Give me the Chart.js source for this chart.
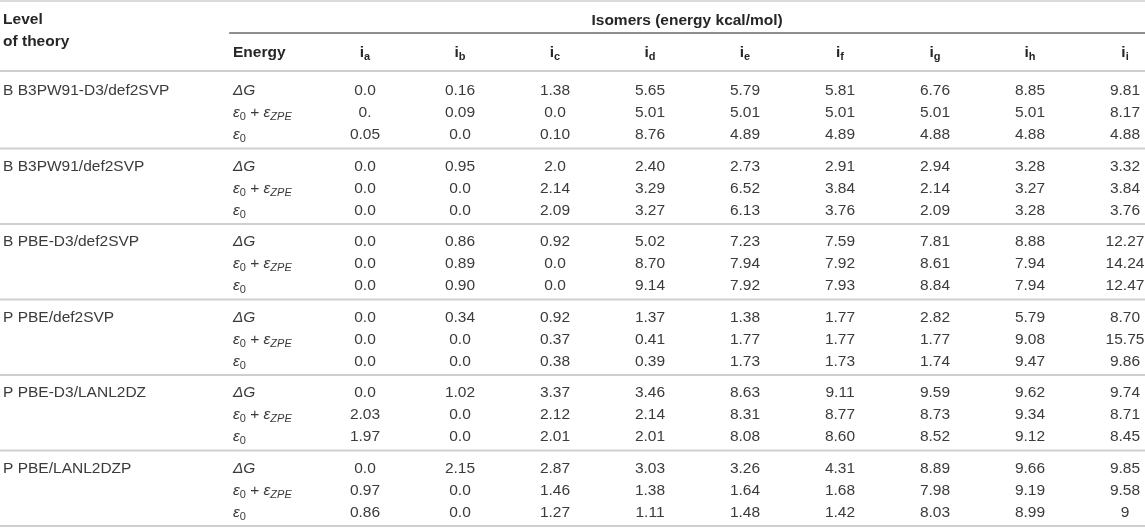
<!DOCTYPE html>
<html>
<head>
<meta charset="utf-8">
<title>Isomer energies</title>
<script src="https://cdn.jsdelivr.net/npm/chart.js@4.4.1/dist/chart.umd.min.js"></script>
<style>
    html, body { margin: 0; padding: 0; background: #fff; }
    #wrap { width: 1145px; height: 528px; position: relative; }
</style>
</head>
<body>
<div id="wrap"><canvas id="chart-isomers"></canvas></div>
<script>
// table data, one row per level of theory, one column per isomer (a..i)
const levels = [
    "B B3PW91-D3/def2SVP",
    "B B3PW91/def2SVP",
    "B PBE-D3/def2SVP",
    "P PBE/def2SVP",
    "P PBE-D3/LANL2DZ",
    "P PBE/LANL2DZP"
];
const isomers = ["a", "b", "c", "d", "e", "f", "g", "h", "i"];
const energyTerms = ["dG", "zpe", "e0"];

const deltaG = [
    ["0.0", "0.16", "1.38", "5.65", "5.79", "5.81", "6.76", "8.85", "9.81"],
    ["0.0", "0.95", "2.0", "2.40", "2.73", "2.91", "2.94", "3.28", "3.32"],
    ["0.0", "0.86", "0.92", "5.02", "7.23", "7.59", "7.81", "8.88", "12.27"],
    ["0.0", "0.34", "0.92", "1.37", "1.38", "1.77", "2.82", "5.79", "8.70"],
    ["0.0", "1.02", "3.37", "3.46", "8.63", "9.11", "9.59", "9.62", "9.74"],
    ["0.0", "2.15", "2.87", "3.03", "3.26", "4.31", "8.89", "9.66", "9.85"]
];
const eps0PlusZpe = [
    ["0.", "0.09", "0.0", "5.01", "5.01", "5.01", "5.01", "5.01", "8.17"],
    ["0.0", "0.0", "2.14", "3.29", "6.52", "3.84", "2.14", "3.27", "3.84"],
    ["0.0", "0.89", "0.0", "8.70", "7.94", "7.92", "8.61", "7.94", "14.24"],
    ["0.0", "0.0", "0.37", "0.41", "1.77", "1.77", "1.77", "9.08", "15.75"],
    ["2.03", "0.0", "2.12", "2.14", "8.31", "8.77", "8.73", "9.34", "8.71"],
    ["0.97", "0.0", "1.46", "1.38", "1.64", "1.68", "7.98", "9.19", "9.58"]
];
const eps0 = [
    ["0.05", "0.0", "0.10", "8.76", "4.89", "4.89", "4.88", "4.88", "4.88"],
    ["0.0", "0.0", "2.09", "3.27", "6.13", "3.76", "2.09", "3.28", "3.76"],
    ["0.0", "0.90", "0.0", "9.14", "7.92", "7.93", "8.84", "7.94", "12.47"],
    ["0.0", "0.0", "0.38", "0.39", "1.73", "1.73", "1.74", "9.47", "9.86"],
    ["1.97", "0.0", "2.01", "2.01", "8.08", "8.60", "8.52", "9.12", "8.45"],
    ["0.86", "0.0", "1.27", "1.11", "1.48", "1.42", "8.03", "8.99", "9"]
];
const headerLevel = ["Level", "of theory"];
const headerEnergy = "Energy";
const headerTitle = "Isomers (energy kcal/mol)";

// layout in scale units: x = isomer column, y = table row
const GROUP = 3.432;
const X_LEVEL = -3.81, X_ENERGY = -1.39, X_RULE = -1.43;
const Y_TOP = -4.09, Y_TITLE = -3.18, Y_RULE_TITLE = -2.64, Y_HEAD = -1.73, Y_RULE_HEAD = -0.91;

const FAMILY = '"Liberation Sans", Arial, Helvetica, sans-serif';
const SIZE = 15.5;
const SUB = 11;
const TEXT = "#3b3b3b";
const BOLD = "#262626";

function rowY(g, r) {
    return g * GROUP + r;
}

function cellPoints(table, r) {
    const pts = [];
    table.forEach((row, g) => {
        row.forEach((v, k) => pts.push({ x: k, y: rowY(g, r), text: v }));
    });
    return pts;
}

const datasets = [
    { label: "dG", data: cellPoints(deltaG, 0), kind: "num" },
    { label: "zpe", data: cellPoints(eps0PlusZpe, 1), kind: "num" },
    { label: "e0", data: cellPoints(eps0, 2), kind: "num" },
    { label: "levels", data: levels.map((l, g) => ({ x: X_LEVEL, y: rowY(g, 0), text: l })), kind: "level" },
    {
        label: "terms",
        data: levels.flatMap((l, g) => energyTerms.map((t, r) => ({ x: X_ENERGY, y: rowY(g, r), text: t }))),
        kind: "term"
    },
    { label: "isomers", data: isomers.map((s, k) => ({ x: k, y: Y_HEAD, text: s })), kind: "iso" }
];

// rich text: list of [text, style, dy]
function font(style, size) {
    return style + " " + size + "px " + FAMILY;
}

function drawParts(ctx, parts, x, y, align, color) {
    let w = 0;
    parts.forEach(p => {
        ctx.font = p[1];
        w += ctx.measureText(p[0]).width;
    });
    let cx = align === "center" ? x - w / 2 : x;
    ctx.fillStyle = color;
    ctx.textAlign = "left";
    ctx.textBaseline = "middle";
    parts.forEach(p => {
        ctx.font = p[1];
        ctx.fillText(p[0], cx, y + (p[2] || 0));
        cx += ctx.measureText(p[0]).width;
    });
}

const termParts = {
    dG: [["\u0394G", font("italic", SIZE), 0]],
    zpe: [
        ["\u03b5", font("italic", SIZE), 0],
        ["0", font("normal", SUB), 4],
        [" + ", font("normal", SIZE), 0],
        ["\u03b5", font("italic", SIZE), 0],
        ["ZPE", font("italic", SUB), 4]
    ],
    e0: [
        ["\u03b5", font("italic", SIZE), 0],
        ["0", font("normal", SUB), 4]
    ]
};

const tablePlugin = {
    id: "tableCells",
    beforeDatasetsDraw(chart) {
        const ctx = chart.ctx;
        const xs = chart.scales.x, ys = chart.scales.y;
        const left = chart.chartArea.left, right = chart.chartArea.right;
        ctx.save();
        const hline = (y, x0, color, lw) => {
            const py = ys.getPixelForValue(y);
            ctx.strokeStyle = color;
            ctx.lineWidth = lw;
            ctx.beginPath();
            ctx.moveTo(x0, py);
            ctx.lineTo(right, py);
            ctx.stroke();
        };
        hline(Y_TOP, left, "#cfcfcf", 1.5);
        hline(Y_RULE_TITLE, xs.getPixelForValue(X_RULE), "#6a6a6a", 1.5);
        hline(Y_RULE_HEAD, left, "#cfcfcf", 2);
        levels.forEach((l, g) => hline(rowY(g + 1, 0) - 0.82, left, "#cfcfcf", 2));

        // header texts
        const hx = xs.getPixelForValue(X_LEVEL);
        drawParts(ctx, [[headerLevel[0], font("bold", SIZE)]], hx, ys.getPixelForValue(Y_TITLE - 0.05), "left", BOLD);
        drawParts(ctx, [[headerLevel[1], font("bold", SIZE)]], hx, ys.getPixelForValue(Y_TITLE + 0.95), "left", BOLD);
        drawParts(ctx, [[headerTitle, font("bold", SIZE)]],
            xs.getPixelForValue((X_RULE + xs.max) / 2), ys.getPixelForValue(Y_TITLE), "center", BOLD);
        drawParts(ctx, [[headerEnergy, font("bold", SIZE)]],
            xs.getPixelForValue(X_ENERGY), ys.getPixelForValue(Y_HEAD), "left", BOLD);
        ctx.restore();
    },
    afterDatasetsDraw(chart) {
        const ctx = chart.ctx;
        ctx.save();
        chart.data.datasets.forEach((ds, i) => {
            const meta = chart.getDatasetMeta(i);
            meta.data.forEach((el, j) => {
                const raw = ds.data[j];
                if (ds.kind === "num") {
                    drawParts(ctx, [[raw.text, font("normal", SIZE)]], el.x, el.y, "center", TEXT);
                } else if (ds.kind === "level") {
                    drawParts(ctx, [[raw.text, font("normal", SIZE)]], el.x, el.y, "left", TEXT);
                } else if (ds.kind === "term") {
                    drawParts(ctx, termParts[raw.text], el.x, el.y, "left", TEXT);
                } else if (ds.kind === "iso") {
                    drawParts(ctx, [["i", font("bold", SIZE), 0], [raw.text, font("bold", SUB), 4]],
                        el.x, el.y, "center", BOLD);
                }
            });
        });
        ctx.restore();
    }
};

const chartIsomers = new Chart(document.getElementById("chart-isomers"), {
    type: "scatter",
    data: { datasets: datasets },
    options: {
        responsive: true,
        maintainAspectRatio: false,
        animation: false,
        layout: { padding: 0 },
        elements: { point: { radius: 0, hoverRadius: 0 } },
        scales: {
            x: { type: "linear", min: -365 / 95, max: 780 / 95, display: false },
            y: { type: "linear", min: -91 / 22, max: 437 / 22, reverse: true, display: false }
        },
        plugins: {
            legend: { display: false },
            tooltip: { enabled: false }
        }
    },
    plugins: [tablePlugin]
});
</script>
</body>
</html>
